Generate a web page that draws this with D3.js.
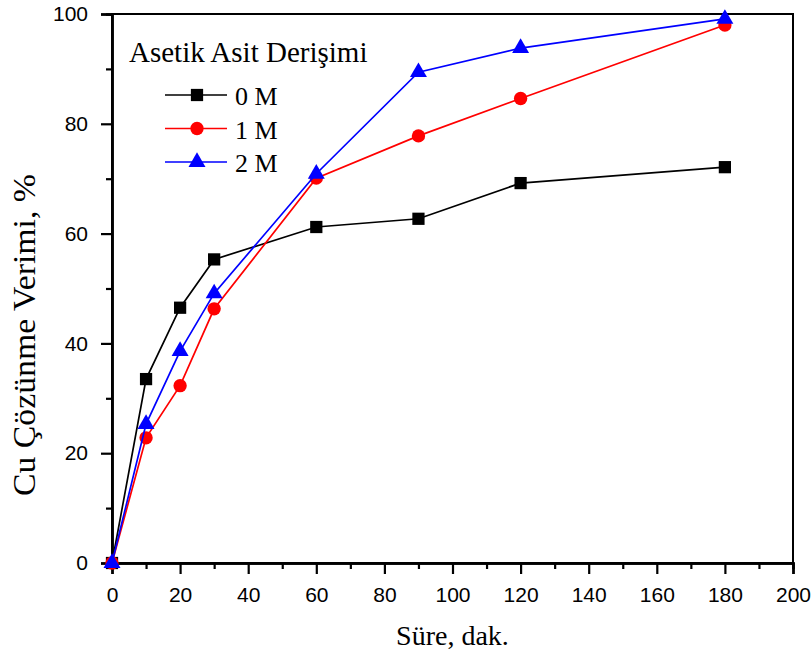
<!DOCTYPE html>
<html>
<head>
<meta charset="utf-8">
<script src="https://cdn.jsdelivr.net/npm/d3@7"></script>
<style>
  body { margin: 0; background: #fff; }
  svg { display: block; }
</style>
</head>
<body>
<svg id="chart" width="812" height="657"></svg>
<script>
// data
const times = [0, 10, 20, 30, 60, 90, 120, 180];
const series0M = [0, 33.5, 46.5, 55.3, 61.2, 62.7, 69.2, 72.1];
const series1M = [0, 22.8, 32.3, 46.3, 70.1, 77.8, 84.6, 98.0];
const series2M = [0, 25.3, 38.6, 49.1, 70.9, 89.4, 93.8, 99.1];
const seriesNames = ['0 M', '1 M', '2 M'];
const xTicks = [0, 20, 40, 60, 80, 100, 120, 140, 160, 180, 200];
const yTicks = [0, 20, 40, 60, 80, 100];

const serif = '"Liberation Serif", "Times New Roman", serif';
const sans = '"Liberation Sans", Arial, sans-serif';

const series = [
  { name: seriesNames[0], values: series0M, color: '#000000', symbol: d3.symbolSquare, size: 150 },
  { name: seriesNames[1], values: series1M, color: '#ff0000', symbol: d3.symbolCircle, size: 140 },
  { name: seriesNames[2], values: series2M, color: '#0000ff', symbol: d3.symbolTriangle, size: 125 }
];

const svg = d3.select('#chart');
const margin = { top: 14, right: 19, bottom: 94, left: 112 };
const width = 812 - margin.left - margin.right;
const height = 657 - margin.top - margin.bottom;

const x = d3.scaleLinear().domain([0, 200]).range([0, width]);
const y = d3.scaleLinear().domain([0, 100]).range([height, 0]);

const g = svg.append('g').attr('transform', `translate(${margin.left},${margin.top})`);

// frame (top and right)
g.append('rect')
  .attr('width', width).attr('height', height)
  .attr('fill', 'none').attr('stroke', '#000').attr('stroke-width', 2);

// x axis
const xMinor = g.append('g').attr('transform', `translate(0,${height})`)
  .call(d3.axisBottom(x).tickValues(d3.range(10, 200, 20)).tickSize(6).tickFormat(''));
const xAxis = g.append('g').attr('transform', `translate(0,${height})`)
  .call(d3.axisBottom(x).tickValues(xTicks).tickSize(11).tickPadding(13));
[xMinor, xAxis].forEach(a => {
  a.selectAll('.domain').attr('stroke-width', 2.5);
  a.selectAll('line').attr('stroke-width', 2.2);
});
xAxis.selectAll('text')
  .style('font-family', sans)
  .style('font-size', '21px').attr('fill', '#000');

// y axis
const yMinor = g.append('g')
  .call(d3.axisLeft(y).tickValues(d3.range(10, 100, 20)).tickSize(6).tickFormat(''));
const yAxis = g.append('g')
  .call(d3.axisLeft(y).tickValues(yTicks).tickSize(11).tickPadding(13));
[yMinor, yAxis].forEach(a => {
  a.selectAll('.domain').attr('stroke-width', 2.5);
  a.selectAll('line').attr('stroke-width', 2.2);
});
yAxis.selectAll('text')
  .style('font-family', sans)
  .style('font-size', '21px').attr('fill', '#000');

// axis titles
svg.append('text')
  .attr('x', margin.left + width / 2).attr('y', 645)
  .attr('text-anchor', 'middle')
  .style('font-family', serif)
  .style('font-size', '28px')
  .text('Süre, dak.');

svg.append('text')
  .attr('transform', 'translate(35,335) rotate(-90)')
  .attr('text-anchor', 'middle')
  .attr('textLength', 322)
  .attr('lengthAdjust', 'spacingAndGlyphs')
  .style('font-family', serif)
  .style('font-size', '31px')
  .text('Cu Çözünme Verimi, %');

// lines and markers
const line = d3.line().x((d, i) => x(times[i])).y(d => y(d));

series.forEach(s => {
  g.append('path')
    .datum(s.values)
    .attr('fill', 'none')
    .attr('stroke', s.color)
    .attr('stroke-width', 1.7)
    .attr('d', line);

  g.selectAll(null)
    .data(s.values)
    .enter().append('path')
    .attr('transform', (d, i) => `translate(${x(times[i])},${y(d)})`)
    .attr('d', d3.symbol().type(s.symbol).size(s.size))
    .attr('fill', s.color);
});

// legend
const legend = svg.append('g').attr('transform', 'translate(129,0)');
legend.append('text')
  .attr('x', 0).attr('y', 62)
  .style('font-family', serif)
  .style('font-size', '29px')
  .text('Asetik Asit Derişimi');

series.forEach((s, i) => {
  const row = legend.append('g').attr('transform', `translate(0,${95 + i * 33.5})`);
  row.append('line')
    .attr('x1', 36).attr('x2', 98)
    .attr('stroke', s.color).attr('stroke-width', 1.7);
  row.append('path')
    .attr('transform', 'translate(68,0)')
    .attr('d', d3.symbol().type(s.symbol).size(s.size))
    .attr('fill', s.color);
  row.append('text')
    .attr('x', 106).attr('y', 10)
    .style('font-family', serif)
    .style('font-size', '26px')
    .text(s.name);
});
</script>
</body>
</html>
